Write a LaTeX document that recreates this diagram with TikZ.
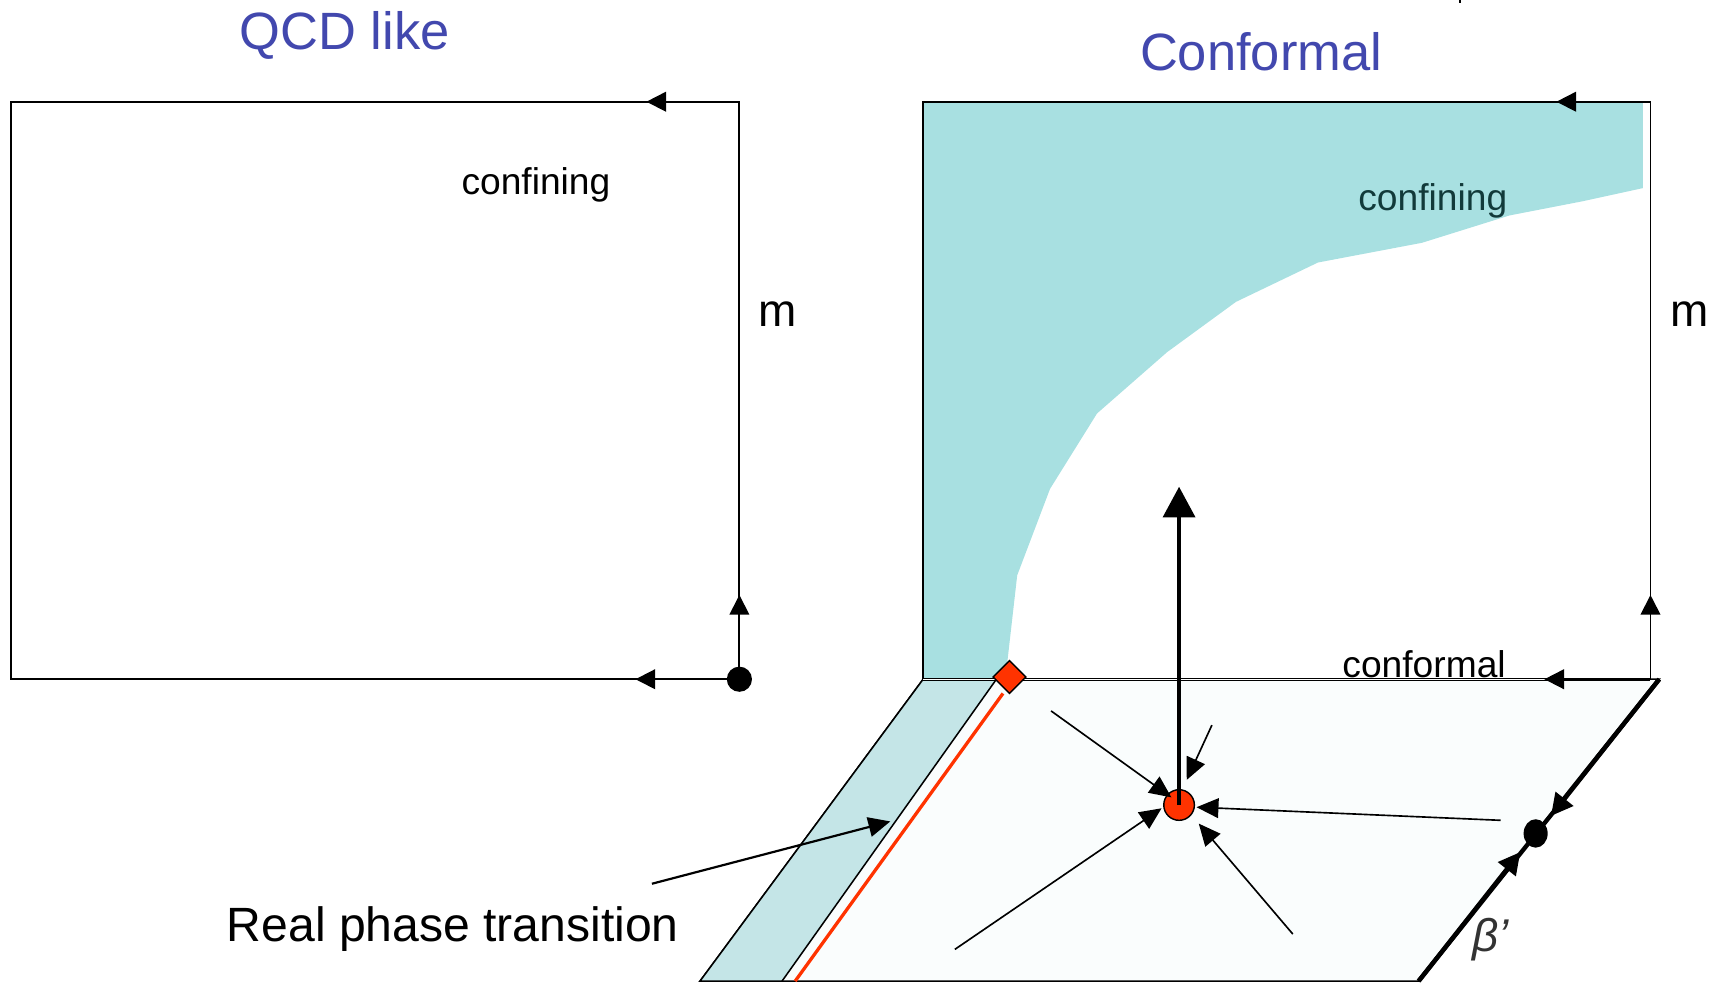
\documentclass[tikz,border=0pt]{standalone}
\usepackage{fontspec}
\setmainfont{Liberation Sans}
\usetikzlibrary{arrows.meta,shapes.geometric}
\definecolor{titleblue}{HTML}{4248AE}
\definecolor{confteal}{HTML}{A8E0E1}
\definecolor{stripteal}{HTML}{C4E5E7}
\definecolor{floorfill}{HTML}{FAFDFD}
\definecolor{redpt}{HTML}{FF3300}
\definecolor{darktext}{HTML}{123A3A}
\tikzset{
  thinline/.style={line width=1.7pt, black},
  midtip/.style={-{Triangle[length=18pt,width=18pt]}, line width=1.7pt},
  flowarrow/.style={-{Triangle[length=20pt,width=18pt]}, line width=1.5pt},
  title/.style={text=titleblue, font=\fontsize{48}{48}\selectfont, inner sep=0pt},
  lab/.style={font=\fontsize{34}{34}\selectfont, inner sep=0pt},
  mlab/.style={font=\fontsize{42}{42}\selectfont, inner sep=0pt},
}
\begin{document}
\begin{tikzpicture}[x=1pt,y=-1pt]
\useasboundingbox (0,0) rectangle (1568,899);
% ---------- left box ----------
\coordinate (LTL) at (10,93);
\coordinate (LTR) at (676,93);
\coordinate (LBL) at (10,621);
\coordinate (LBR) at (676,621);
\draw[thinline] (LTL) -- (LTR) -- (LBR) -- (LBL) -- cycle;
\coordinate (LtopTip) at (591,93);
\coordinate (LupTip) at (676,544);
\coordinate (LbotTip) at (581,621);
\draw[midtip] (LTR) -- (LtopTip);
\draw[midtip] (LBR) -- (LupTip);
\draw[midtip] (LBR) -- (LbotTip);
\node[circle, fill=black, minimum size=23pt, inner sep=0pt] (Ldot) at (LBR) {};
\node[title] (qcd) at (315,32) {QCD like};
\node[lab] (conf1) at (490,169) {confining};
\node[mlab] (m1) at (711,287) {m};
% ---------- right box ----------
\coordinate (RTL) at (844,93);
\coordinate (RTR) at (1509,93);
\coordinate (RBL) at (844,621);
\coordinate (RBR) at (1509,621);
\fill[confteal] (844,93) -- (1502,93) -- (1502,172) -- (1447,184) -- (1380,197)
  -- (1300,222) -- (1205,240) -- (1130,276) -- (1067,322) -- (1003,378)
  -- (960,447) -- (930,526) -- (921,605) -- (919,621) -- (844,621) -- cycle;
% floor
\coordinate (F1) at (844,621);
\coordinate (F2) at (1517,621);
\coordinate (F3) at (1297,897);
\coordinate (F4) at (640,897);
\filldraw[floorfill, draw=black, line width=1.4pt] (F1) -- (F2) -- (F3) -- (F4) -- cycle;
\filldraw[stripteal, draw=black, line width=1.4pt] (F4) -- (F1) -- (911,621) -- (715,897) -- cycle;
\draw[redpt, line width=3pt] (917,634) -- (727,897);
% box lines
\draw[thinline] (RBL) -- (RTL) -- (RTR) -- (RBR);
\draw[black, double=white, line width=0.9pt, double distance=1.1pt] (RBL) -- (RBR);
\coordinate (RtopTip) at (1423,93);
\coordinate (RupTip) at (1509,544);
\coordinate (RbotTip) at (1412,621);
\draw[midtip] (RTR) -- (RtopTip);
\draw[midtip] (RBR) -- (RupTip);
\draw[midtip] (RBR) -- (RbotTip);
% diamond
\filldraw[redpt, draw=black, line width=1.3pt] (923,604) -- (938,619) -- (923,634) -- (908,619) -- cycle;
% thick right edge of floor
\draw[line width=4pt] (F2) -- (F3);
\coordinate (Bdot) at (1404,762);
\draw[line width=4pt, -{Triangle[length=20pt,width=20pt]}] (F2) -- (1418,746);
\draw[line width=4pt, -{Triangle[length=20pt,width=20pt]}] (F3) -- (1390,779);
\node[ellipse, fill=black, minimum width=22pt, minimum height=26pt, inner sep=0pt] (bdot) at (Bdot) {};
% fixed point
\coordinate (FP) at (1078,736);
\node[circle, fill=redpt, draw=black, line width=1.3pt, minimum size=28pt, inner sep=0pt] (fp) at (FP) {};
\draw[line width=4pt, -{Triangle[length=28pt,width=29pt]}] (FP) -- (1078,445);
\draw[flowarrow] (961,650) -- (1071,729);
\draw[flowarrow] (1108,663) -- (1085,713);
\draw[flowarrow] (1372,750) -- (1094,738);
\draw[flowarrow] (873,868) -- (1062,739);
\draw[flowarrow] (1182,854) -- (1096,753);
% texts
\node[title] (confT) at (1153,47) {Conformal};
\node[lab, text=darktext] (conf2) at (1310,184) {confining};
\node[lab] (conformal) at (1302,607) {conformal};
\node[mlab] (m2) at (1545,287) {m};
\node[font=\fontsize{44}{44}\selectfont, inner sep=0pt] (rpt) at (414,849) {Real phase transition};
\draw[line width=2pt, -{Triangle[length=20pt,width=18pt]}] (596,808) -- (814,751);
\node[font=\fontsize{42}{42}\selectfont\itshape, inner sep=0pt, text=black!80] (beta) at (1363,859) {β’};
\draw[line width=2pt] (1335,0) -- (1335,3);
\end{tikzpicture}
\end{document}
